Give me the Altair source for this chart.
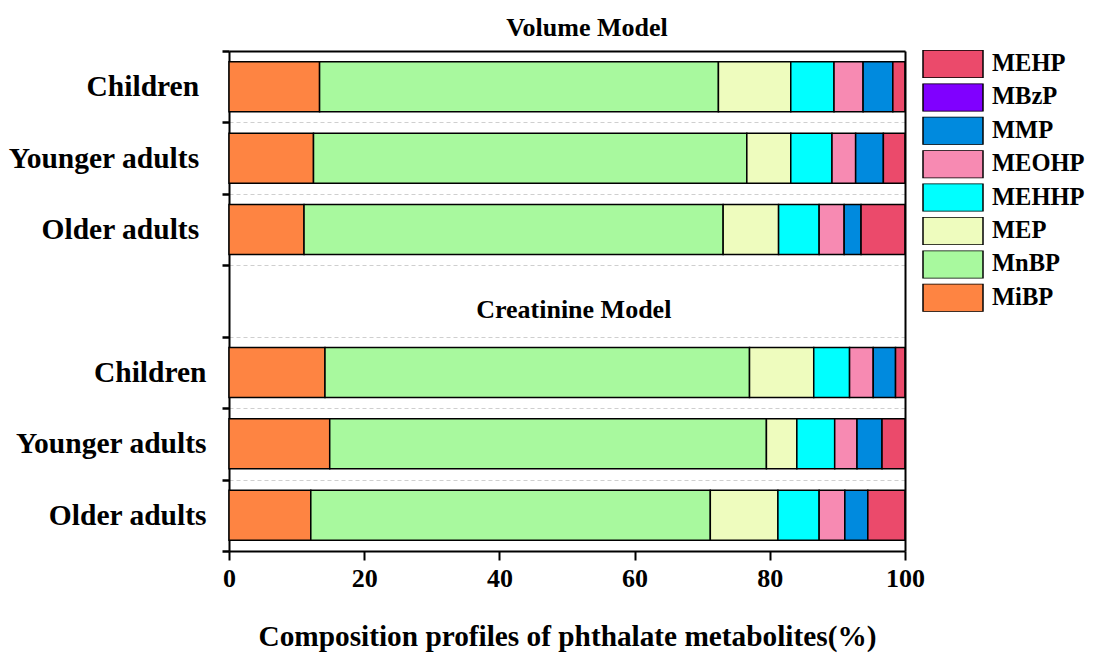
import altair as alt
import pandas as pd

FONT = "Liberation Serif"

# stacking order (left to right)
metabolites = ["MiBP", "MnBP", "MEP", "MEHHP", "MEOHP", "MMP", "MBzP", "MEHP"]
# legend order (top to bottom)
legend_order = ["MEHP", "MBzP", "MMP", "MEOHP", "MEHHP", "MEP", "MnBP", "MiBP"]
legend_colors = ["#EB4A6B", "#8000FF", "#008ADE", "#F78AB2", "#00FFFF", "#EEFCBE", "#A8F99E", "#FE8442"]

groups = ["Children", "Younger adults", "Older adults"]
# volume-model labels carry a small trailing space (as in the original figure)
volume_keys = [g + "\u2005\u200b" for g in groups]
creat_keys = list(groups)
gap_key = " "
row_order = volume_keys + [gap_key] + creat_keys

# composition (%) in metabolite (stacking) order
vol_children = [13.4, 59.0, 10.7, 6.4, 4.3, 4.4, 0.0, 1.8]
vol_younger = [12.5, 64.1, 6.5, 6.1, 3.5, 4.1, 0.0, 3.2]
vol_older = [11.1, 62.0, 8.2, 6.0, 3.7, 2.5, 0.0, 6.5]
cre_children = [14.2, 62.8, 9.5, 5.3, 3.5, 3.3, 0.0, 1.4]
cre_younger = [14.9, 64.6, 4.5, 5.6, 3.3, 3.7, 0.0, 3.4]
cre_older = [12.1, 59.1, 10.0, 6.1, 3.8, 3.4, 0.0, 5.5]

series = {
    volume_keys[0]: vol_children,
    volume_keys[1]: vol_younger,
    volume_keys[2]: vol_older,
    creat_keys[0]: cre_children,
    creat_keys[1]: cre_younger,
    creat_keys[2]: cre_older,
}

rows = []
for key, vals in series.items():
    for i, (m, v) in enumerate(zip(metabolites, vals)):
        rows.append({"key": key, "metabolite": m, "value": v, "ord": i})
df = pd.DataFrame(rows)

section_title = pd.DataFrame({"key": [gap_key], "x": [51.0], "label": ["Creatinine Model"]})

y_scale = alt.Scale(paddingInner=0, paddingOuter=0)
x_scale = alt.Scale(domain=[0, 100], nice=False)

y_enc = alt.Y(
    "key:N",
    sort=row_order,
    scale=y_scale,
    axis=alt.Axis(
        title=None,
        tickBand="extent",
        grid=True,
        gridDash=[4, 3],
        gridColor="#cfcfcf",
        gridWidth=1,
        labelFont=FONT,
        labelFontSize=29.5,
        labelFontWeight="bold",
        labelColor="black",
        labelPadding=16,
        labelLimit=400,
        tickSize=7,
        tickWidth=2.5,
        tickColor="black",
        domainColor="black",
        domainWidth=2,
    ),
)

bars = (
    alt.Chart(df)
    .transform_filter("datum.value > 0")
    .mark_bar(stroke="black", strokeWidth=1.5, height={"band": 0.7})
    .encode(
        y=y_enc,
        x=alt.X(
            "value:Q",
            stack="zero",
            scale=x_scale,
            axis=alt.Axis(
                values=[0, 20, 40, 60, 80, 100],
                title="Composition profiles of phthalate metabolites(%)",
                labelFont=FONT,
                labelFontSize=26,
                labelFontWeight="bold",
                labelColor="black",
                labelPadding=5,
                labelFlush=False,
                titleFont=FONT,
                titleFontSize=29.3,
                titleFontWeight="bold",
                titleColor="black",
                titlePadding=31,
                tickSize=9,
                tickWidth=2,
                tickColor="black",
                domainColor="black",
                domainWidth=2,
                grid=False,
            ),
        ),
        color=alt.Color(
            "metabolite:N",
            scale=alt.Scale(domain=legend_order, range=legend_colors),
            legend=alt.Legend(
                title=None,
                orient="none",
                legendX=693,
                legendY=-1,
                padding=0,
                symbolType="M-1,-0.467H1V0.467H-1Z",
                symbolSize=3600,
                symbolStrokeColor="black",
                symbolStrokeWidth=1.5,
                symbolOpacity=1,
                clipHeight=28,
                rowPadding=5.4,
                labelOffset=8,
                labelFont=FONT,
                labelFontSize=24.5,
                labelFontWeight="bold",
                labelColor="black",
                labelLimit=200,
            ),
        ),
        order=alt.Order("ord:Q", sort="ascending"),
    )
)

# section label; its layer also carries the top and right frame lines
text = (
    alt.Chart(section_title)
    .mark_text(font=FONT, fontSize=26, fontWeight="bold", baseline="alphabetic", dy=17, color="black")
    .encode(
        y=alt.Y(
            "key:N",
            sort=row_order,
            scale=y_scale,
            axis=alt.Axis(
                orient="right", labels=False, ticks=False, grid=False, title=None,
                domainColor="black", domainWidth=2, zindex=1,
            ),
        ),
        x=alt.X(
            "x:Q",
            scale=x_scale,
            axis=alt.Axis(
                orient="top", labels=False, ticks=False, grid=False, title=None,
                domainColor="black", domainWidth=2, zindex=1,
            ),
        ),
        text="label:N",
    )
)

chart = (
    alt.layer(bars, text)
    .resolve_axis(x="independent", y="independent")
    .properties(
        width=676,
        height=500,
        autosize=alt.AutoSizeParams(type="none"),
        padding={"left": 221, "top": 43, "right": 182, "bottom": 102},
        title=alt.TitleParams(
            "Volume Model",
            font=FONT,
            fontSize=26,
            fontWeight="bold",
            color="black",
            anchor="middle",
            offset=10,
            dx=20,
            dy=15,
        ),
    )
    .configure_view(stroke="black", strokeWidth=2, strokeOpacity=1)
    .configure(background="white")
)

chart.save("out.html", embed_options={"renderer": "svg", "actions": False})
